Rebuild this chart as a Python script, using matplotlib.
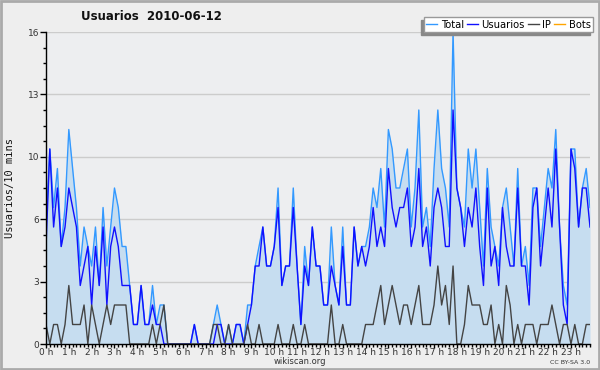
import numpy as np
import matplotlib
matplotlib.use("Agg")
import matplotlib.pyplot as plt
from matplotlib.lines import Line2D
from matplotlib.patches import Rectangle

# 10-minute samples, 2010-06-12
usuarios = [5, 10, 6, 8, 5, 6, 8, 7, 6, 3, 4, 5, 2, 5, 3, 6, 2, 5, 6, 5, 3, 3, 3, 1, 1, 3, 1, 1, 2, 1, 1, 0,
            0, 0, 0, 0, 0, 0, 0, 1, 0, 0, 0, 0,
            0, 1, 1, 0, 0, 0, 1, 1, 0, 1, 2, 4, 4,
            6, 4, 4, 5, 7, 3, 4, 4, 7, 4, 1, 4, 3, 6, 4, 4, 2, 2, 4, 3, 2, 5, 2, 2, 6, 4, 5, 4, 5,
            7, 5, 6, 5, 9, 7, 6, 7, 7, 8, 5, 6, 9, 5, 6, 4, 7, 8, 7, 5, 5, 12, 8, 7, 5, 7, 6, 8, 5,
            3, 8, 4, 5, 3, 7, 5, 4, 4, 8, 4, 4, 2, 7, 8, 4, 6, 8, 6, 10, 6, 2, 1, 10, 9, 6, 8, 8, 6]
ip = [1, 0, 1, 1, 0, 1, 3, 1, 1, 1, 2, 0, 2, 1, 0, 1, 2, 1, 2, 2, 2, 2, 0, 0, 0, 0, 0, 0, 1, 0, 1, 2,
      0, 0, 0, 0, 0, 0, 0, 0, 0, 0, 0, 0,
      1, 1, 0, 0, 1, 0, 0, 0, 0, 1, 0, 0, 1,
      0, 0, 0, 0, 1, 0, 0, 0, 1, 0, 0, 1, 0, 0, 0, 0, 0, 0, 2, 0, 0, 1, 0, 0, 0, 0, 0, 1, 1,
      1, 2, 3, 1, 2, 3, 2, 1, 2, 2, 1, 2, 3, 1, 1, 1, 2, 4, 2, 3, 1, 4, 0, 0, 1, 3, 2, 2, 2,
      1, 1, 2, 0, 1, 0, 3, 2, 0, 1, 0, 1, 1, 1, 0, 1, 1, 1, 2, 1, 0, 1, 1, 0, 1, 0, 0, 1, 1]
total = [6, 10, 7, 9, 5, 7, 11, 9, 7, 4, 6, 5, 4, 6, 3, 7, 4, 6, 8, 7, 5, 5, 3, 1, 1, 3, 1, 1, 3, 1, 2, 2,
         0, 0, 0, 0, 0, 0, 0, 1, 0, 0, 0, 0,
         1, 2, 1, 0, 1, 0, 1, 1, 0, 2, 2, 4, 5,
         6, 4, 4, 5, 8, 3, 4, 4, 8, 4, 1, 5, 3, 6, 4, 4, 2, 2, 6, 3, 2, 6, 2, 2, 6, 4, 5, 5, 6,
         8, 7, 9, 6, 11, 10, 8, 8, 9, 10, 6, 8, 12, 6, 7, 5, 9, 12, 9, 8, 6, 16, 8, 7, 6, 10, 8, 10, 7,
         4, 9, 6, 5, 4, 7, 8, 6, 4, 9, 4, 5, 3, 8, 8, 5, 7, 9, 8, 11, 6, 3, 2, 10, 10, 6, 8, 9, 7]
hour_labels = ["%d h" % h for h in range(24)]
y_tick_labels = ["0", "3", "6", "10", "13", "16"]

c_total = "#3399ff"
c_users = "#1010ff"
c_ip = "#444444"
c_bots = "#ffa500"
c_fill = "#c6ddf0"

x = np.arange(len(total)) / 6.0

fig = plt.figure(figsize=(6, 3.7), dpi=100, facecolor="#eeeeee")
ax = fig.add_axes([46 / 600, 1 - 344 / 370, 544 / 600, 312 / 370])
ax.set_facecolor("#edeef0")

ax.fill_between(x, 0, total, color=c_fill, lw=0)
ax.plot(x, total, color=c_total, lw=1)
ax.plot(x, usuarios, color=c_users, lw=1)
ax.plot(x, ip, color=c_ip, lw=1)

ax.set_xlim(0, x[-1])
ax.set_ylim(0, 16)
yt = np.linspace(0, 16, 6)
ax.set_yticks(yt)
ax.set_yticklabels(y_tick_labels)
ax.set_yticks(np.arange(0, 16.01, 0.8), minor=True)
ax.set_xticks(range(24))
ax.set_xticklabels(hour_labels)
ax.set_xticks(np.arange(0, x[-1] + 0.01, 1 / 6.0), minor=True)
ax.grid(axis="y", color="#cccccc", lw=1)
ax.set_axisbelow(True)
for s in ["top", "right"]:
    ax.spines[s].set_visible(False)
ax.spines["left"].set_linewidth(1)
ax.spines["bottom"].set_linewidth(1)
ax.tick_params(axis="y", which="major", direction="out", length=4, width=1,
               labelsize=6.5, colors="black", labelcolor="#333333", pad=1)
ax.tick_params(axis="x", which="major", direction="out", length=3, width=1,
               labelsize=6.5, colors="black", labelcolor="#333333", pad=0)
ax.tick_params(axis="both", which="minor", direction="out", length=2.5, width=1)

fig.text(10 / 600, 1 - 188 / 370, "Usuarios/10 mins", rotation=90, ha="center", va="center",
         family="DejaVu Sans Mono", fontsize=7.5, color="#111111")
fig.text(151 / 600, 1 - 17 / 370, "Usuarios  2010-06-12", ha="center", va="center",
         fontsize=8.5, fontweight="bold", color="#111111")
fig.text(300 / 600, 1 - 362 / 370, "wikiscan.org", ha="center", va="center", fontsize=6, color="#333333")
fig.text(590 / 600, 1 - 362 / 370, "CC BY-SA 3.0", ha="right", va="center", fontsize=4.5, color="#333333")

handles = [Line2D([], [], color=c, lw=1) for c in [c_total, c_users, c_ip, c_bots]]
leg = fig.legend(handles, ["Total", "Usuarios", "IP", "Bots"], ncol=4, loc="upper right",
                 bbox_to_anchor=(593 / 600, 1 - 17 / 370), fontsize=7.2, frameon=True,
                 fancybox=False, edgecolor="#999999", facecolor="white", framealpha=1,
                 handlelength=1.1, handletextpad=0.35, columnspacing=0.3, borderpad=0.25,
                 borderaxespad=0)
leg.get_frame().set_linewidth(1)
leg.set_zorder(6)

fig.canvas.draw()
bb = leg.get_window_extent().transformed(fig.transFigure.inverted())
fig.add_artist(Rectangle((bb.x0 - 3 / 600, bb.y0 - 3 / 370), bb.width, bb.height,
                         transform=fig.transFigure, color="#888888", zorder=5))
fig.add_artist(Rectangle((0.0015, 0.0025), 0.997, 0.995, transform=fig.transFigure,
                         fill=False, edgecolor="#aaaaaa", lw=2, zorder=10))

fig.savefig("out.png", dpi=100, facecolor=fig.get_facecolor())
